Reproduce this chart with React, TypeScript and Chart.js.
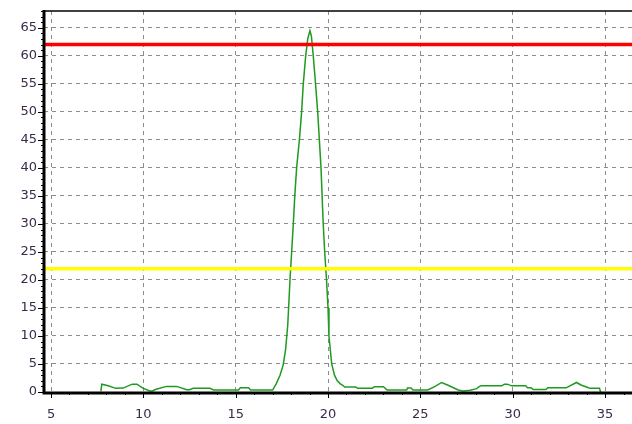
import React, { useEffect, useRef } from "react";
import { Chart, registerables } from "chart.js";

Chart.register(...registerables);

// Signal trace (x, y)
const traceX: number[] = [
  7.7, 7.75, 8.1, 8.5, 8.9, 9.4, 9.65, 10.0, 10.35, 10.5, 10.65, 11.25, 11.8, 12.35, 12.5, 12.7,
  13.6, 13.8, 15.15, 15.25, 15.7, 15.8, 17.0, 17.2, 17.4, 17.57, 17.7, 17.82, 17.94, 18.03, 18.12,
  18.2, 18.3, 18.45, 18.57, 18.66, 18.79, 18.9, 19.02, 19.1, 19.2, 19.3, 19.44, 19.53, 19.62,
  19.68, 19.74, 19.82, 19.92, 20.0, 20.05, 20.2, 20.35, 20.5, 20.65, 20.8, 20.9, 21.5, 21.6,
  22.4, 22.5, 23.0, 23.2, 24.26, 24.3, 24.5, 24.6, 25.4, 25.8, 26.15, 26.5, 27.05, 27.3, 27.7,
  28.05, 28.2, 28.3, 29.4, 29.55, 29.7, 29.95, 30.7, 30.8, 31.0, 31.1, 31.8, 31.9, 32.9, 33.45,
  33.7, 34.1, 34.2, 34.7, 34.76,
];
const traceY: number[] = [
  0.1, 1.4, 1.1, 0.65, 0.7, 1.4, 1.4, 0.65, 0.2, 0.2, 0.45, 1.0, 1.0, 0.4, 0.4, 0.65,
  0.65, 0.35, 0.35, 0.75, 0.75, 0.35, 0.35, 1.5, 3.0, 4.8, 7.5, 12, 20, 25, 30,
  35, 40, 45, 50, 55, 60, 63, 64.5, 63.5, 60, 56, 50, 45, 40,
  35, 30, 25, 20, 15, 10, 5, 3, 2.0, 1.5, 1.2, 0.9, 0.9, 0.65,
  0.65, 0.95, 0.95, 0.35, 0.35, 0.7, 0.7, 0.35, 0.35, 1.0, 1.7, 1.2, 0.35, 0.2, 0.3,
  0.6, 1.0, 1.1, 1.1, 1.4, 1.4, 1.1, 1.1, 0.75, 0.75, 0.45, 0.45, 0.75, 0.75, 1.7,
  1.25, 0.75, 0.65, 0.65, 0.0,
];

// Threshold lines
const upperLimit = 62;
const lowerLimit = 22;

// Axes
const xMin = 4.62;
const xMax = 36.46;
const yMin = 0;
const yMax = 68;
const xTickValues = [5, 10, 15, 20, 25, 30, 35];
const yTickValues = [0, 5, 10, 15, 20, 25, 30, 35, 40, 45, 50, 55, 60, 65];

const axisPlugin = {
  id: "axisDecor",
  afterDraw(chart: any) {
    const ctx = chart.ctx;
    const area = chart.chartArea;
    const xs = chart.scales.x;
    const ys = chart.scales.y;
    ctx.save();
    ctx.strokeStyle = "#000";
    ctx.lineWidth = 1;
    for (let v = Math.ceil(xMin); v <= xMax; v++) {
      const px = Math.round(xs.getPixelForValue(v)) + 0.5;
      const major = v % 5 === 0;
      ctx.beginPath();
      ctx.moveTo(px, area.bottom);
      ctx.lineTo(px, area.bottom + (major ? 6 : 3));
      ctx.stroke();
    }
    for (let v = yMin; v <= yMax; v++) {
      const py = Math.round(ys.getPixelForValue(v)) + 0.5;
      const major = v % 5 === 0;
      ctx.beginPath();
      ctx.moveTo(area.left, py);
      ctx.lineTo(area.left - (major ? 6 : 3), py);
      ctx.stroke();
    }
    ctx.lineWidth = 3;
    ctx.beginPath();
    ctx.moveTo(area.left, area.top - 1);
    ctx.lineTo(area.left, area.bottom + 1);
    ctx.lineTo(area.right, area.bottom + 1);
    ctx.stroke();
    ctx.lineWidth = 1.5;
    ctx.beginPath();
    ctx.moveTo(area.left, area.top);
    ctx.lineTo(area.right, area.top);
    ctx.stroke();
    ctx.restore();
  },
};

export default function App() {
  const ref = useRef<HTMLCanvasElement | null>(null);
  useEffect(() => {
    if (!ref.current) return;
    const trace = traceX.map((x, i) => ({ x, y: traceY[i] }));
    const chart = new Chart(ref.current, {
      type: "line",
      data: {
        datasets: [
          {
            data: [
              { x: xMin, y: upperLimit },
              { x: xMax, y: upperLimit },
            ],
            borderColor: "#ff0000",
            borderWidth: 3.5,
            pointRadius: 0,
          },
          {
            data: [
              { x: xMin, y: lowerLimit },
              { x: xMax, y: lowerLimit },
            ],
            borderColor: "#ffff00",
            borderWidth: 3.5,
            pointRadius: 0,
          },
          {
            data: trace,
            borderColor: "#1f9a1f",
            borderWidth: 1.5,
            pointRadius: 0,
            tension: 0,
          },
        ],
      },
      options: {
        responsive: false,
        animation: false,
        events: [],
        layout: { padding: { top: 11, right: 0, left: 0, bottom: 0 } },
        plugins: { legend: { display: false }, tooltip: { enabled: false } },
        scales: {
          x: {
            type: "linear",
            min: xMin,
            max: xMax,
            afterBuildTicks: (s: any) => {
              s.ticks = xTickValues.map((v) => ({ value: v }));
            },
            afterFit: (s: any) => {
              s.height = 32;
              s.paddingLeft = 0;
              s.paddingRight = 0;
              s.paddingTop = 0;
              s.paddingBottom = 0;
            },
            grid: { color: "#8c8c8c", lineWidth: 1, drawTicks: false },
            border: { display: false, dash: [4, 4] },
            ticks: {
              padding: 15,
              color: "#3c2a4a",
              font: { family: "DejaVu Sans", size: 13 },
              maxRotation: 0,
              autoSkip: false,
            },
          },
          y: {
            type: "linear",
            min: yMin,
            max: yMax,
            afterBuildTicks: (s: any) => {
              s.ticks = yTickValues.map((v) => ({ value: v }));
            },
            afterFit: (s: any) => {
              s.width = 44;
              s.paddingTop = 0;
              s.paddingBottom = 0;
              s.paddingLeft = 0;
              s.paddingRight = 0;
            },
            grid: { color: "#8c8c8c", lineWidth: 1, drawTicks: false },
            border: { display: false, dash: [4, 4] },
            ticks: {
              padding: 7,
              color: "#3c2a4a",
              font: { family: "DejaVu Sans", size: 13 },
              autoSkip: false,
            },
          },
        },
      } as any,
      plugins: [axisPlugin],
    });
    return () => chart.destroy();
  }, []);
  return (
    <div style={{ position: "fixed", left: 0, top: 0, width: 632, height: 424, background: "#fff" }}>
      <canvas ref={ref} width={632} height={424} style={{ width: 632, height: 424 }} />
    </div>
  );
}
